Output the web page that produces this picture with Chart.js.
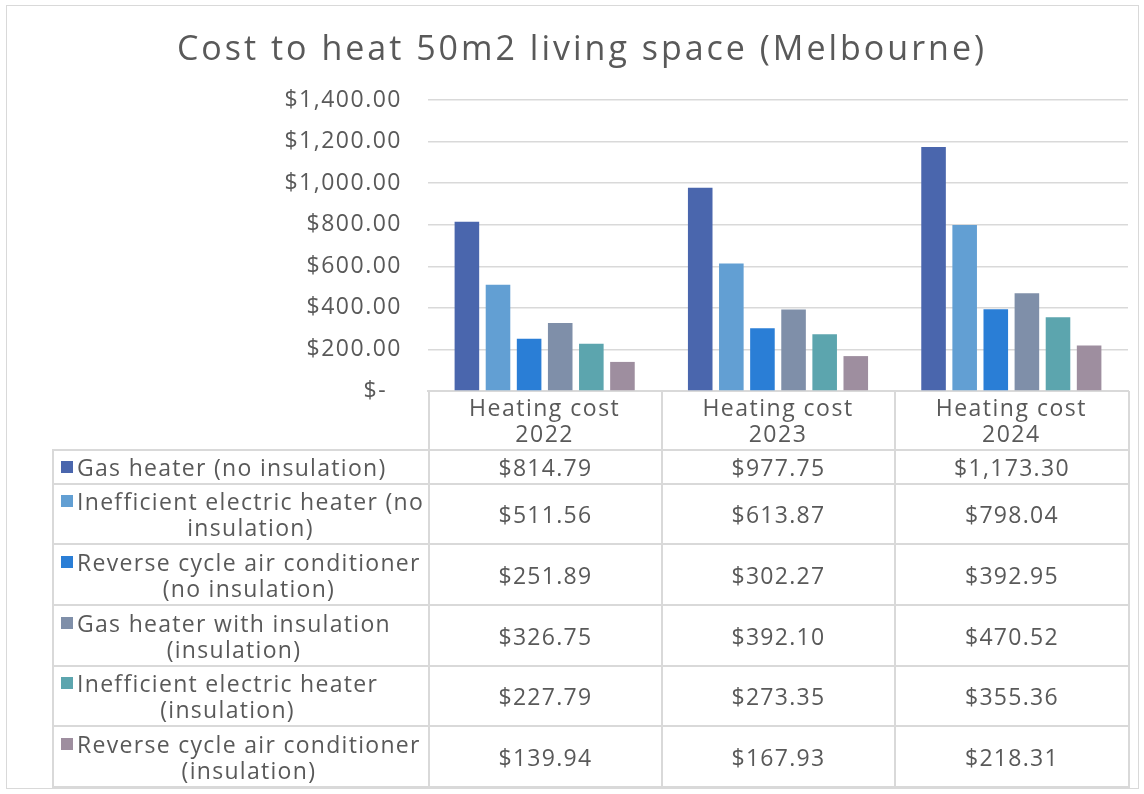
<!DOCTYPE html>
<html>
<head>
<meta charset="utf-8">
<script src="https://cdn.jsdelivr.net/npm/chart.js@4.4.1/dist/chart.umd.min.js"></script>
<style>
  html, body { margin: 0; padding: 0; background: #ffffff; }
  body { width: 1144px; height: 794px; position: relative; overflow: hidden; font-family: "Open Sans", sans-serif; color: #595959; }
  #frame { position: absolute; left: 6px; top: 5px; width: 1133px; height: 784px; border: 1.5px solid #d9d9d9; box-sizing: border-box; }
  #wrap { position: absolute; left: 0; top: 0; width: 1144px; height: 794px; }
  #title { position: absolute; left: 0; top: 26px; width: 1164px; text-align: center; font-size: 34px; line-height: 42px; letter-spacing: 3px; color: #595959; white-space: nowrap; }
  #tbl { position: absolute; left: 52px; top: 391px; width: 1076px; border-collapse: collapse; table-layout: fixed; font-size: 23px; letter-spacing: 1.3px; color: #595959; }
  #tbl td { border: 2px solid #d9d9d9; padding: 0; text-align: center; vertical-align: middle; line-height: 26px; }
  #tbl tr.head td { background: transparent; border-top: none; }
  #tbl tr.head td.blank { border-left: none; }
  .lab { display: flex; align-items: flex-start; padding-left: 7px; }
  .sq { width: 12px; height: 12px; flex: 0 0 12px; margin-top: 7px; margin-right: 4px; }
  .txt { display: inline-block; text-align: center; white-space: nowrap; }
</style>
</head>
<body>
<div id="frame"></div>
<div id="wrap"><canvas id="c" width="1144" height="794"></canvas></div>
<div id="title"></div>
<table id="tbl"></table>
<script>
const title = "Cost to heat 50m2 living space (Melbourne)";
const categories = ["Heating cost 2022", "Heating cost 2023", "Heating cost 2024"];
const series1Name = ["Gas heater (no insulation)"];
const series2Name = ["Inefficient electric heater (no", "insulation)"];
const series3Name = ["Reverse cycle air conditioner", "(no insulation)"];
const series4Name = ["Gas heater with insulation", "(insulation)"];
const series5Name = ["Inefficient electric heater", "(insulation)"];
const series6Name = ["Reverse cycle air conditioner", "(insulation)"];
const series1 = [814.79, 977.75, 1173.30];
const series2 = [511.56, 613.87, 798.04];
const series3 = [251.89, 302.27, 392.95];
const series4 = [326.75, 392.10, 470.52];
const series5 = [227.79, 273.35, 355.36];
const series6 = [139.94, 167.93, 218.31];
const yTicks = [0, 200, 400, 600, 800, 1000, 1200, 1400];
const colors = ["#4a66ad", "#629fd3", "#2a7ed6", "#7f8fa9", "#5ca5ae", "#9e8e9f"];

const names = [series1Name, series2Name, series3Name, series4Name, series5Name, series6Name];
const values = [series1, series2, series3, series4, series5, series6];

const money = v => "$" + v.toLocaleString("en-US", { minimumFractionDigits: 2, maximumFractionDigits: 2 });

document.getElementById("title").textContent = title;

// Data table (HTML, real text)
const tbl = document.getElementById("tbl");
let html = '<colgroup><col style="width:376px"><col style="width:233px"><col style="width:233px"><col style="width:234px"></colgroup>';
html += '<tr class="head" style="height:59px"><td class="blank"></td>' + categories.map(() => '<td></td>').join('') + '</tr>';
const rowH = [34, 60, 61, 61, 60, 61];
names.forEach((nm, i) => {
  html += '<tr style="height:' + rowH[i] + 'px"><td style="text-align:left"><div class="lab"><span class="sq" style="background:' + colors[i] + '"></span><span class="txt">' + nm.join('<br>') + '</span></div></td>';
  values[i].forEach(v => { html += '<td>' + money(v) + '</td>'; });
  html += '</tr>';
});
tbl.innerHTML = html;

const spacingPlugin = {
  id: "spacing",
  beforeDraw(chart) { chart.ctx.letterSpacing = "1.5px"; }
};

const font = "'Open Sans', sans-serif";
new Chart(document.getElementById("c"), {
  type: "bar",
  data: {
    labels: categories.map(c => { const k = c.lastIndexOf(" "); return [c.slice(0, k), c.slice(k + 1)]; }),
    datasets: values.map((d, i) => ({
      label: names[i].join(" "),
      data: d,
      backgroundColor: colors[i],
      borderWidth: 0,
      categoryPercentage: 0.8,
      barPercentage: 0.79
    }))
  },
  plugins: [spacingPlugin],
  options: {
    responsive: false,
    animation: false,
    layout: { padding: { left: 0, right: 16, top: 100, bottom: 345 } },
    plugins: {
      legend: { display: false },
      tooltip: { enabled: false },
      title: { display: false }
    },
    scales: {
      x: {
        grid: { display: true, drawOnChartArea: false, drawTicks: false, color: "#d9d9d9" },
        border: { display: true, color: "#d9d9d9", width: 2 },
        ticks: { color: "#595959", font: { family: font, size: 23, lineHeight: 1.13 }, padding: 5, maxRotation: 0 },
        afterFit: s => { s.height = 58; }
      },
      y: {
        min: 0, max: 1400,
        afterBuildTicks: s => { s.ticks = yTicks.map(v => ({ value: v })); },
        grid: { color: "#d9d9d9", lineWidth: 1.5, drawTicks: false },
        border: { display: false },
        ticks: {
          color: "#595959",
          font: { family: font, size: 23 },
          padding: 26,
          callback: v => v === 0 ? "$-  " : money(v)
        },
        afterFit: s => { s.width = 428; }
      }
    }
  }
});
</script>
</body>
</html>
